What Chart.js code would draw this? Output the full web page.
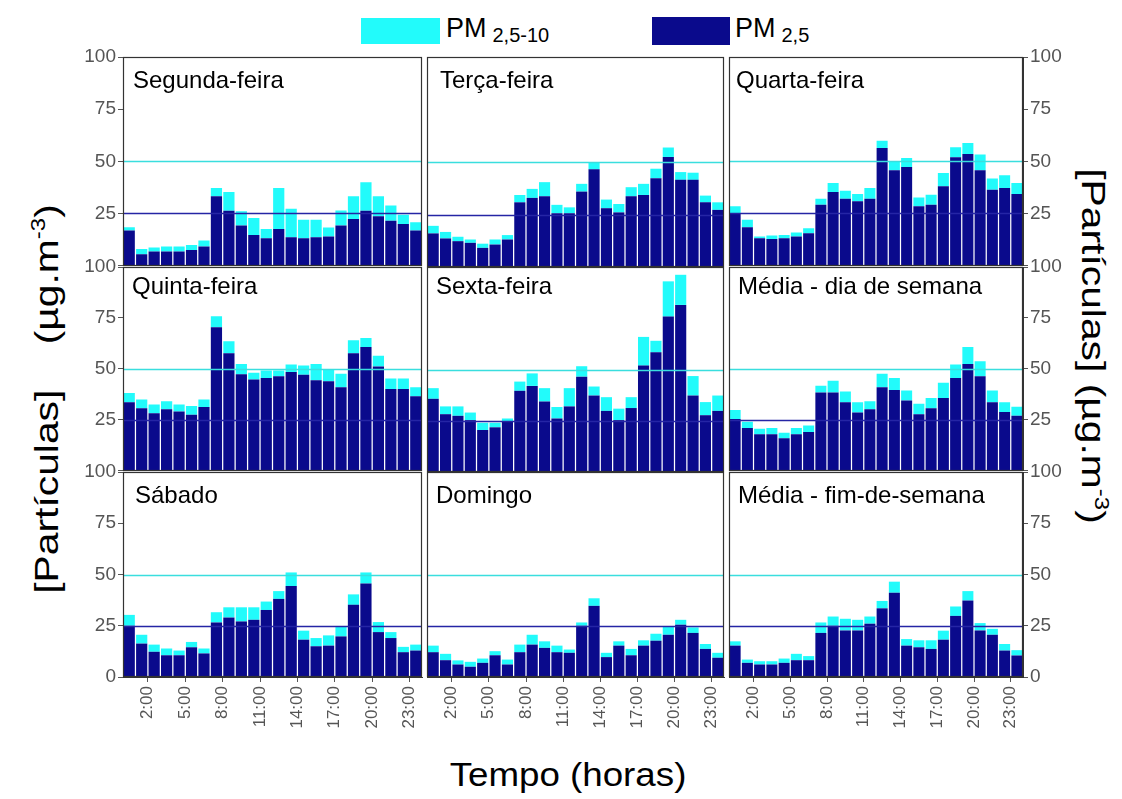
<!DOCTYPE html>
<html><head><meta charset="utf-8">
<script src="https://cdn.jsdelivr.net/npm/chart.js@4.4.1/dist/chart.umd.min.js"></script>
<style>
body{margin:0;background:#fff;width:1122px;height:799px;position:relative;overflow:hidden;font-family:"Liberation Sans",Arial,sans-serif;}
canvas{position:absolute;}
.t{position:absolute;white-space:nowrap;line-height:24px;font-size:24px;color:#000;}
.box{position:absolute;}
.leg{position:absolute;white-space:nowrap;font-size:27px;line-height:27px;color:#000;}
.leg small{font-size:20px;position:relative;top:5px;margin-left:6px;}
.rot{position:absolute;white-space:pre;font-size:34px;line-height:34px;color:#000;}
.rot sup{font-size:20px;}
</style></head><body>
<div class="box" style="left:361px;top:18px;width:79px;height:26px;background:#22fbfb;"></div>
<div class="leg" style="left:446px;top:15px;">PM<small>2,5-10</small></div>
<div class="box" style="left:652px;top:17px;width:78px;height:28px;background:#0a0a8c;"></div>
<div class="leg" style="left:735px;top:15px;">PM<small>2,5</small></div>
<div class="rot" style="left:42px;top:399px;transform:translate(-50%,-50%) rotate(-90deg) scaleX(1.2);">[Partículas]    (µg.m<sup>-3</sup>)</div>
<div class="rot" style="left:1098px;top:346px;transform:translate(-50%,-50%) rotate(90deg) scaleX(1.2);">[Partículas] (µg.m<sup>-3</sup>)</div>
<div class="rot" style="left:568px;top:774px;transform:translate(-50%,-50%) scaleX(1.08);">Tempo (horas)</div>
<script>
// ---- data ----
const hours = ['1:00','2:00','3:00','4:00','5:00','6:00','7:00','8:00','9:00','10:00','11:00','12:00','13:00','14:00','15:00','16:00','17:00','18:00','19:00','20:00','21:00','22:00','23:00','24:00'];
const shownHours = ['2:00','5:00','8:00','11:00','14:00','17:00','20:00','23:00'];
const yTickStep = 25;
const limitValues = [25, 50];
const panelTitles = ['Segunda-feira','Terça-feira','Quarta-feira','Quinta-feira','Sexta-feira','Média - dia de semana','Sábado','Domingo','Média - fim-de-semana'];
const seriesNames = ['PM 2,5','PM 2,5-10'];

const segundaPM25   = [16.8,5.4,6.7,6.7,6.7,7.5,9.1,33.2,26.3,19.2,14.7,13.1,17.6,13.6,13.1,13.6,14.0,19.2,22.3,26.3,23.7,21.5,19.9,16.8];
const segundaPM2510 = [1.6,2.5,2.0,2.4,2.4,2.4,2.9,4.0,9.0,6.8,8.1,4.5,19.6,13.6,8.9,8.4,4.3,7.2,10.9,13.6,9.5,7.3,4.5,4.0];
const tercaPM25     = [16.0,13.6,12.3,11.5,9.1,10.7,13.1,30.8,32.9,33.7,25.6,25.6,35.9,46.5,28.0,26.0,33.7,34.3,42.3,52.4,41.5,41.5,30.8,27.2];
const tercaPM2510   = [3.6,3.1,2.1,1.6,2.0,2.4,2.1,3.5,4.3,6.7,4.0,2.8,3.7,3.2,4.1,4.0,4.3,5.3,4.5,4.5,3.7,3.4,3.2,3.6];
const quartaPM25    = [25.2,18.4,13.1,12.8,13.1,13.9,15.5,29.2,35.3,32.1,30.8,32.1,56.4,45.7,47.3,28.4,29.2,38.0,51.9,53.5,45.7,36.4,37.2,34.3];
const quartaPM2510  = [3.2,3.6,0.8,1.6,1.6,2.0,2.4,2.9,4.3,3.8,3.5,5.1,3.5,4.3,4.3,4.3,4.8,6.4,4.8,5.3,7.5,5.3,6.1,5.3];
const quintaPM25    = [33.6,30.6,28.2,30.1,29.0,27.4,31.2,70.4,57.6,47.3,44.7,45.5,46.3,48.4,47.1,44.4,43.9,40.9,57.6,60.7,51.1,40.1,40.1,36.5];
const quintaPM2510  = [4.5,4.3,4.3,4.0,3.5,4.3,3.7,5.4,5.9,5.1,3.4,3.7,2.9,3.7,4.5,8.0,5.6,6.7,6.4,4.4,5.3,5.1,5.1,4.4];
const sextaPM25     = [35.7,28.2,27.4,25.3,20.5,21.8,24.5,39.6,42.0,34.4,26.1,32.0,46.5,37.3,29.8,25.3,31.2,51.9,58.4,75.8,81.5,37.3,27.7,29.8];
const sextaPM2510   = [5.2,3.8,4.6,3.7,3.5,2.2,1.6,4.5,6.1,6.5,5.6,8.9,5.1,4.4,6.7,5.6,5.3,14.0,5.6,17.2,14.7,9.5,6.4,7.5];
const mediaSemPM25  = [25.3,20.9,17.8,17.8,15.9,17.8,18.9,38.4,38.4,33.6,28.5,30.1,40.9,39.6,34.4,27.7,30.6,35.7,45.5,52.4,46.3,33.6,28.8,26.9];
const mediaSemPM2510= [4.5,3.1,2.7,3.1,2.7,3.1,3.2,3.3,5.7,5.3,5.1,4.0,6.7,5.9,4.9,5.1,5.1,7.5,6.6,8.3,7.4,5.7,4.8,4.5];
const sabadoPM25    = [25.0,16.3,12.3,10.6,10.6,14.5,11.5,26.6,29.0,27.1,27.9,32.7,38.1,44.4,18.2,15.0,15.3,19.8,35.2,45.6,21.9,19.0,12.1,12.9];
const sabadoPM2510  = [5.3,4.3,3.5,3.3,2.3,2.6,2.4,5.0,5.0,6.9,6.1,4.1,3.8,6.6,4.4,4.0,5.0,4.6,5.1,5.4,4.9,2.9,2.6,2.9];
const domingoPM25   = [12.1,8.2,6.1,5.0,6.9,10.6,6.1,12.1,15.8,14.2,12.1,11.8,25.0,34.7,9.7,15.3,10.6,15.3,17.7,20.6,25.5,21.5,13.7,9.4];
const domingoPM2510 = [3.2,3.1,2.0,2.4,2.1,2.0,2.4,3.7,4.8,3.2,3.2,1.6,1.6,3.7,2.1,2.1,3.1,2.6,3.4,3.8,2.4,2.7,2.4,2.4];
const mediaFimPM25  = [15.3,6.9,6.1,6.1,6.9,8.2,8.2,21.5,25.0,22.7,22.7,26.0,33.5,41.1,15.3,14.5,13.7,18.2,29.8,37.3,22.7,20.6,12.9,10.5];
const mediaFimPM2510= [2.1,1.6,1.6,1.6,2.1,3.1,2.0,5.1,4.5,5.7,5.2,3.5,3.6,5.4,3.2,3.4,4.2,4.4,4.6,4.6,3.6,2.9,3.2,2.6];

const fineSeries   = [segundaPM25, tercaPM25, quartaPM25, quintaPM25, sextaPM25, mediaSemPM25, sabadoPM25, domingoPM25, mediaFimPM25];
const coarseSeries = [segundaPM2510, tercaPM2510, quartaPM2510, quintaPM2510, sextaPM2510, mediaSemPM2510, sabadoPM2510, domingoPM2510, mediaFimPM2510];

// ---- layout / style ----
const colL = [123, 427, 729], colR = [422, 724, 1023];
const rowT = [57, 267, 472], rowB = [267, 472, 677];
const titlePos = [[133,68],[440,68],[736,68],[132,274],[436,274],[738,274],[135,483],[436,483],[738,483]];
const FONT = '"Liberation Sans", Arial, sans-serif';
const DARK = '#0a0a8c', CYAN = '#22fbfb';
const limitColors = ['#2525a5', '#3adede'];

const overlayPlugin = {
  id: 'overlay',
  afterDatasetsDraw(chart) {
    const {ctx, chartArea: a} = chart;
    const y = chart.scales.y;
    ctx.save();
    limitValues.forEach((v, i) => {
      const py = Math.round(y.getPixelForValue(v)) + 0.5;
      ctx.strokeStyle = limitColors[i];
      ctx.lineWidth = 1.6;
      ctx.beginPath(); ctx.moveTo(a.left, py); ctx.lineTo(a.right, py); ctx.stroke();
    });
    ctx.strokeStyle = '#333';
    ctx.lineWidth = 1.2;
    ctx.strokeRect(Math.round(a.left) + 0.5, Math.round(a.top) + 0.5, Math.round(a.right - a.left) - 1, Math.round(a.bottom - a.top) - 1);
    ctx.restore();
  }
};

for (let p = 0; p < 9; p++) {
  const r = Math.floor(p / 3), c = p % 3;
  const padL = c === 0 ? 0 : 14;
  const axisW = 70;
  const leftExtra = c === 0 ? axisW : padL;
  const rightPad = c === 2 ? 0 : 22;
  const rightExtra = c === 2 ? axisW : rightPad;
  const topPad = 14;
  const bottomExtra = r === 2 ? 75 : 12;
  const cv = document.createElement('canvas');
  const w = (colR[c] - colL[c]) + leftExtra + rightExtra;
  const h = (rowB[r] - rowT[r]) + topPad + bottomExtra;
  cv.width = w; cv.height = h;
  cv.style.left = (colL[c] - leftExtra) + 'px';
  cv.style.top = (rowT[r] - topPad) + 'px';
  cv.style.width = w + 'px'; cv.style.height = h + 'px';
  document.body.appendChild(cv);
  const showX = r === 2, showY = c !== 1;

  new Chart(cv, {
    type: 'bar',
    data: {
      labels: hours,
      datasets: [
        {label: seriesNames[0], data: fineSeries[p], backgroundColor: DARK, barPercentage: 0.9, categoryPercentage: 1, borderWidth: 0},
        {label: seriesNames[1], data: coarseSeries[p], backgroundColor: CYAN, barPercentage: 0.9, categoryPercentage: 1, borderWidth: 0}
      ]
    },
    options: {
      responsive: false, animation: false, devicePixelRatio: 1,
      layout: {padding: {left: padL, right: rightPad, top: topPad, bottom: showX ? 0 : 12}},
      plugins: {legend: {display: false}, tooltip: {enabled: false}},
      scales: {
        x: {
          stacked: true,
          display: showX,
          offset: true,
          grid: {display: true, drawOnChartArea: false, offset: true, tickLength: 5,
                 tickColor: ctx => (ctx.index % 3 === 2) ? '#555' : 'rgba(0,0,0,0)'},
          border: {display: true, color: '#333'},
          ticks: {autoSkip: false, maxRotation: 90, minRotation: 90, labelOffset: 6, padding: 4,
                  color: '#555', font: {size: 17, family: FONT},
                  callback: (v, i) => shownHours.includes(hours[i]) ? hours[i] : ''},
          afterFit: s => { s.height = showX ? 75 : 0; }
        },
        y: {
          stacked: true, min: 0, max: 100,
          position: c === 2 ? 'right' : 'left',
          display: showY,
          grid: {drawOnChartArea: false, tickLength: 5, color: '#555'},
          border: {display: true, color: '#333'},
          ticks: {stepSize: yTickStep, padding: 2, color: '#555', font: {size: 19, family: FONT},
                  callback: v => (r < 2 && v === 0) ? '' : String(v)},
          afterFit: s => { s.width = showY ? axisW : 0; }
        }
      }
    },
    plugins: [overlayPlugin]
  });

  const t = document.createElement('div');
  t.className = 't';
  t.style.left = titlePos[p][0] + 'px';
  t.style.top = titlePos[p][1] + 'px';
  t.textContent = panelTitles[p];
  document.body.appendChild(t);
}
</script>
</body></html>
